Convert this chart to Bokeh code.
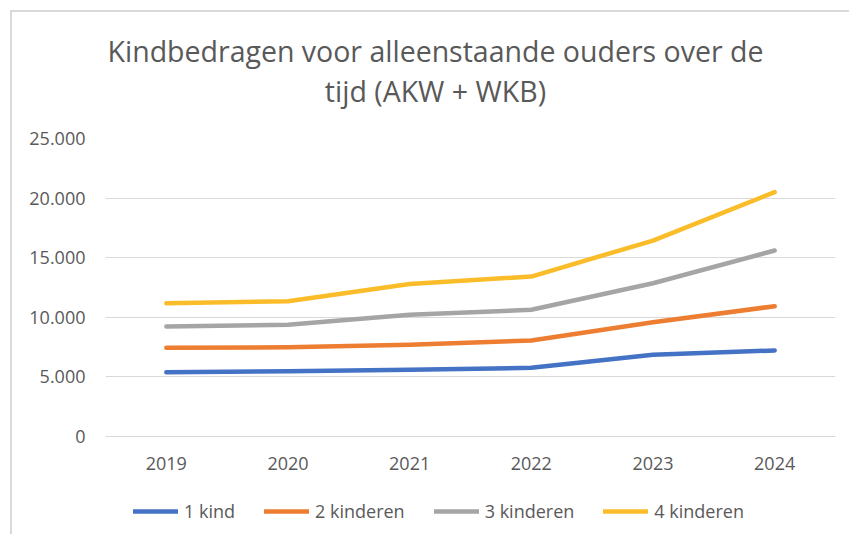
from bokeh.plotting import figure
from bokeh.models import Legend, LegendItem, FixedTicker, ColumnDataSource, Div, Range1d
from bokeh.layouts import column
from bokeh.embed import file_html
from bokeh.resources import INLINE

years = ["2019", "2020", "2021", "2022", "2023", "2024"]
kind1 = [5390, 5480, 5600, 5760, 6850, 7220]
kind2 = [7440, 7490, 7690, 8050, 9590, 10930]
kind3 = [9230, 9370, 10210, 10630, 12860, 15600]
kind4 = [11180, 11350, 12800, 13420, 16440, 20500]
series_names = ["1 kind", "2 kinderen", "3 kinderen", "4 kinderen"]
colors = ["#4472C4", "#ED7D31", "#A5A5A5", "#FBBC2A"]
y_ticks = [0, 5000, 10000, 15000, 20000, 25000]
y_tick_labels = ["0", "5.000", "10.000", "15.000", "20.000", "25.000"]
title_line1 = "Kindbedragen voor alleenstaande ouders over de"
title_line2 = "tijd (AKW + WKB)"

FONT = "Open Sans"
TXT = "#595959"
W = 837
series = [kind1, kind2, kind3, kind4]

# --- title block ---
title = Div(text=(
    f'<div style="margin-left:10px;width:827px;padding-top:19px;text-align:center;'
    f'font-family:\'{FONT}\';font-size:28.5px;line-height:40px;color:{TXT};white-space:nowrap;">'
    f'{title_line1}<br>{title_line2}</div>'), width=W, height=100, margin=0)

# --- main chart ---
p = figure(width=W, height=373, x_range=years, y_range=(0, 25000),
           output_backend="svg", toolbar_location=None,
           min_border_left=93, min_border_right=14, min_border_top=26, min_border_bottom=49)
p.outline_line_color = None
p.xgrid.grid_line_color = None
p.ygrid.grid_line_color = "#d9d9d9"
p.ygrid.grid_line_width = 1
p.yaxis.ticker = FixedTicker(ticks=y_ticks)
p.yaxis.major_label_overrides = {t: l for t, l in zip(y_ticks, y_tick_labels)}
p.yaxis.axis_line_color = None
p.yaxis.major_tick_line_color = None
p.yaxis.minor_tick_line_color = None
p.yaxis.major_tick_out = 0
p.yaxis.major_label_standoff = 20
p.xaxis.axis_line_color = "#d9d9d9"
p.xaxis.major_tick_line_color = None
p.xaxis.minor_tick_line_color = None
p.xaxis.major_tick_out = 0
p.xaxis.major_label_standoff = 20
for ax in (p.xaxis, p.yaxis):
    ax.major_label_text_font = FONT
    ax.major_label_text_font_size = "18px"
    ax.major_label_text_color = TXT

line_kw = dict(line_width=4.5, line_cap="round", line_join="round")
for vals, c in zip(series, colors):
    p.line("x", "y", source=ColumnDataSource(dict(x=years, y=vals)), line_color=c, **line_kw)

# --- legend strip (same series, legend only; lines lie outside its view) ---
pl = figure(width=W, height=49, x_range=years, y_range=Range1d(0, 1),
            output_backend="svg", toolbar_location=None,
            x_axis_location=None, y_axis_location=None,
            min_border=0, min_border_left=0, min_border_right=0, min_border_top=0, min_border_bottom=0)
pl.outline_line_color = None
pl.grid.visible = False
items = []
for name, vals, c in zip(series_names, series, colors):
    r = pl.line("x", "y", source=ColumnDataSource(dict(x=years, y=vals)), line_color=c, **line_kw)
    items.append(LegendItem(label=name, renderers=[r]))
legend = Legend(items=items, orientation="horizontal", location=(28, 11),
                glyph_width=45, glyph_height=24, label_standoff=6, spacing=29,
                padding=0, margin=0, border_line_color=None, background_fill_alpha=0,
                label_text_font=FONT, label_text_font_size="18px", label_text_color=TXT)
pl.add_layout(legend, "center")

page = column(title, p, pl, spacing=0)
page.styles = {"margin-left": "10px", "margin-top": "10px",
               "border-left": "2px solid #d9d9d9", "border-top": "2px solid #d9d9d9"}

open("out.html", "w").write(file_html(page, INLINE))
